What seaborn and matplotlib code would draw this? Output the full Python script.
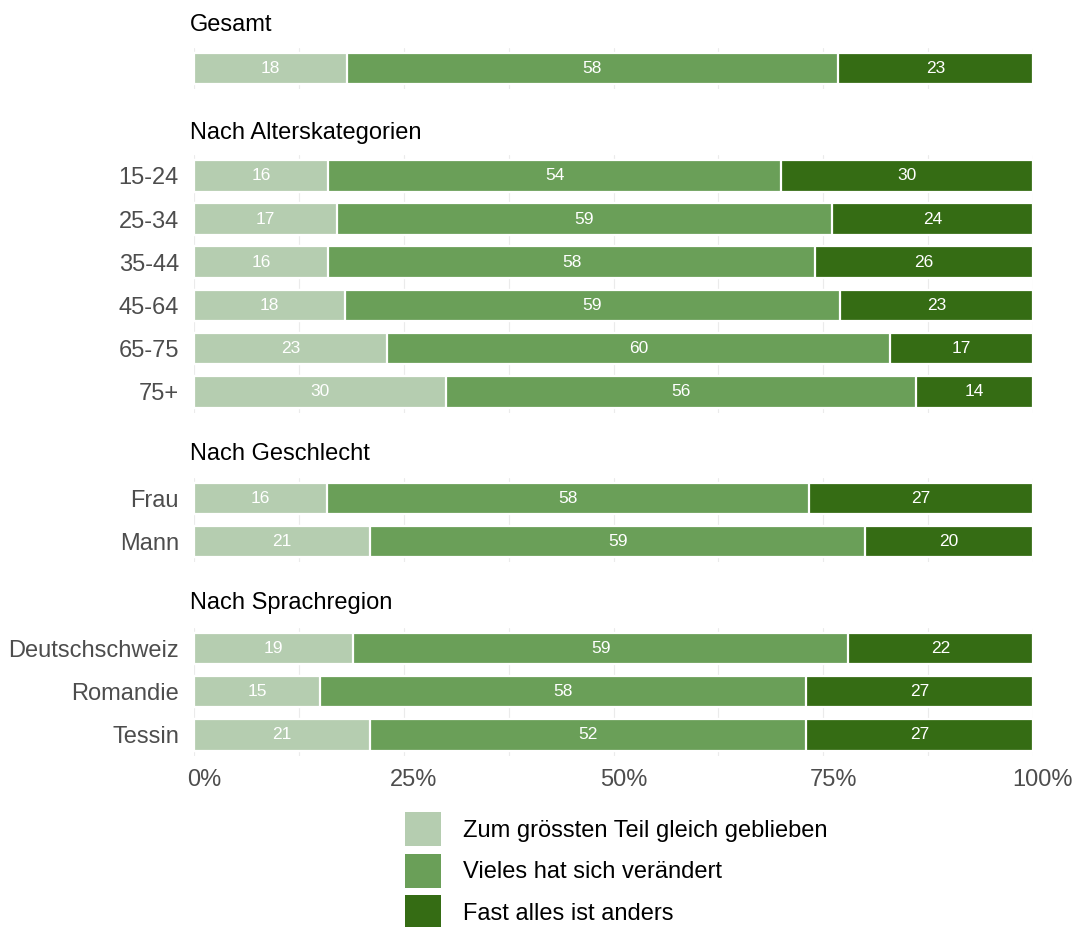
import matplotlib
matplotlib.use("Agg")
import matplotlib.pyplot as plt
import matplotlib.transforms as mtransforms
from matplotlib.patches import Patch
import seaborn as sns
import pandas as pd

# ---------------- data ----------------
answer_labels = ["Zum grössten Teil gleich geblieben",
                 "Vieles hat sich verändert",
                 "Fast alles ist anders"]

group_titles = ["Gesamt", "Nach Alterskategorien", "Nach Geschlecht", "Nach Sprachregion"]

gesamt_categories = [""]
gesamt_gleich = [18]
gesamt_vieles = [58]
gesamt_anders = [23]

age_categories = ["15-24", "25-34", "35-44", "45-64", "65-75", "75+"]
age_gleich = [16, 17, 16, 18, 23, 30]
age_vieles = [54, 59, 58, 59, 60, 56]
age_anders = [30, 24, 26, 23, 17, 14]

sex_categories = ["Frau", "Mann"]
sex_gleich = [16, 21]
sex_vieles = [58, 59]
sex_anders = [27, 20]

region_categories = ["Deutschschweiz", "Romandie", "Tessin"]
region_gleich = [19, 15, 21]
region_vieles = [59, 58, 52]
region_anders = [22, 27, 27]

x_ticks = [0, 0.25, 0.5, 0.75, 1.0]
x_tick_labels = ["0%", "25%", "50%", "75%", "100%"]
x_minor_ticks = [0.125, 0.375, 0.625, 0.875]

# ---------------- style ----------------
colors = ["#b5cdb0", "#6a9f58", "#356c14"]
sns.set_theme(style="white")
plt.rcParams["font.family"] = ["Liberation Sans", "DejaVu Sans"]

W, H = 1076, 927
fig = plt.figure(figsize=(W / 100, H / 100), dpi=100)

groups = [
    (gesamt_categories, [gesamt_gleich, gesamt_vieles, gesamt_anders]),
    (age_categories, [age_gleich, age_vieles, age_anders]),
    (sex_categories, [sex_gleich, sex_vieles, sex_anders]),
    (region_categories, [region_gleich, region_vieles, region_anders]),
]

# layout (pixels)
first_center = [68.5, 175.8, 498.3, 648.4]
title_baseline = [31, 139, 460, 609]
unit = 43.2
margin = 0.48
left_px, right_px = 194, 1033

for gi, (cats, series) in enumerate(groups):
    n = len(cats)
    top = first_center[gi] - margin * unit
    height = (n - 1 + 2 * margin) * unit
    ax = fig.add_axes([left_px / W, 1 - (top + height) / H,
                       (right_px - left_px) / W, height / H])

    df = pd.DataFrame({"cat": cats})
    for k, s in enumerate(series):
        df[f"v{k}"] = s
    total = df[["v0", "v1", "v2"]].sum(axis=1)
    shares = [df[f"v{k}"] / total for k in range(3)]
    cum = [shares[0], shares[0] + shares[1], shares[0] + shares[1] + shares[2]]

    # draw from right-most segment to left-most (stacked look)
    for k in [2, 1, 0]:
        d = pd.DataFrame({"cat": cats, "right": cum[k]})
        sns.barplot(data=d, x="right", y="cat", order=cats, color=colors[k],
                    orient="h", width=0.73, edgecolor="white", linewidth=1.6,
                    saturation=1, ax=ax, zorder=2)

    # segment labels
    for k in range(3):
        lefts = cum[k] - shares[k]
        for i in range(n):
            ax.text(lefts.iloc[i] + shares[k].iloc[i] / 2, i, str(series[k][i]),
                    ha="center", va="center", color="white", fontsize=12.5, zorder=3)

    ax.set_xlim(0, 1)
    ax.set_ylim(n - 1 + margin, -margin)
    ax.set_xticks(x_ticks)
    ax.set_xticks(x_minor_ticks, minor=True)
    ax.grid(axis="x", which="both", color="#ebebeb", linewidth=0.8, zorder=0)
    ax.grid(axis="y", visible=False)
    ax.set_axisbelow(True)
    for sp in ax.spines.values():
        sp.set_visible(False)
    ax.set_xlabel("")
    ax.set_ylabel("")
    ax.tick_params(axis="both", which="both", length=0)
    ax.tick_params(axis="y", pad=10.8, labelsize=17, labelcolor="#4d4d4d")

    if gi == len(groups) - 1:
        ax.set_xticklabels(x_tick_labels)
        ax.tick_params(axis="x", pad=10, labelsize=17, labelcolor="#4d4d4d")
        offset = mtransforms.ScaledTranslation(10 / 100, 0, fig.dpi_scale_trans)
        for lbl in ax.get_xticklabels():
            lbl.set_transform(lbl.get_transform() + offset)
    else:
        ax.tick_params(axis="x", labelbottom=False)

    fig.text(190 / W, 1 - title_baseline[gi] / H, group_titles[gi],
             fontsize=17, ha="left", va="baseline", color="black")

# legend
handles = [Patch(facecolor=c, edgecolor="none") for c in colors]
fs = 17
fig.legend(handles, answer_labels, loc="upper left",
           bbox_to_anchor=(405 / W, 1 - 812 / H), bbox_transform=fig.transFigure,
           frameon=False, fontsize=fs, borderpad=0, borderaxespad=0,
           handlelength=1.52, handleheight=1.87, labelspacing=0.3,
           handletextpad=0.93, labelcolor="black")

fig.savefig("out.png", dpi=100)
